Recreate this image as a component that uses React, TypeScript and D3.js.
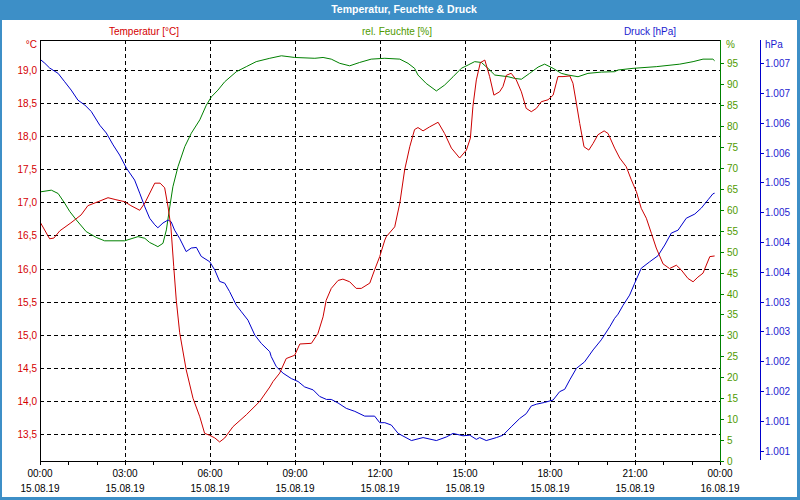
import React, { useEffect } from "react";
import * as d3 from "d3";

// ---- data (time in hours since 15.08.19 00:00) ----
const tempTime = [0.02,0.34,0.49,0.70,1.09,1.45,1.69,2.05,2.40,2.68,2.99,3.21,3.52,3.70,4.05,4.24,4.40,4.52,4.62,4.72,4.81,4.93,5.16,5.40,5.64,5.81,5.99,6.17,6.34,6.52,6.81,7.28,7.75,8.11,8.22,8.46,8.69,8.99,9.17,9.58,9.81,9.99,10.10,10.28,10.52,10.69,10.93,11.16,11.34,11.64,11.81,11.99,12.17,12.22,12.52,12.70,12.87,13.05,13.22,13.34,13.52,13.75,14.05,14.28,14.52,14.81,15.05,15.19,15.28,15.40,15.54,15.70,15.87,16.02,16.22,16.34,16.46,16.63,16.81,16.99,17.16,17.34,17.52,17.69,17.93,18.11,18.28,18.46,18.70,18.81,18.93,19.05,19.20,19.37,19.52,19.69,19.91,20.05,20.28,20.46,20.69,20.87,21.05,21.22,21.40,21.58,21.75,21.99,22.22,22.46,22.63,22.87,23.05,23.22,23.40,23.64,23.81];
const tempValues = [16.69,16.45,16.46,16.57,16.69,16.81,16.95,17.01,17.07,17.04,17.01,16.95,16.88,16.99,17.29,17.29,17.22,16.93,16.63,16.03,15.52,15.03,14.47,14.04,13.76,13.51,13.48,13.44,13.38,13.44,13.61,13.79,13.99,14.21,14.29,14.42,14.64,14.69,14.86,14.87,15.02,15.27,15.52,15.70,15.82,15.84,15.80,15.70,15.70,15.78,15.98,16.18,16.43,16.48,16.63,16.99,17.49,17.84,18.10,18.13,18.08,18.14,18.21,18.04,17.82,17.67,17.79,17.97,18.45,18.85,19.11,19.15,18.90,18.62,18.67,18.75,18.92,18.95,18.85,18.67,18.42,18.37,18.42,18.52,18.55,18.62,18.90,18.90,18.91,18.80,18.50,18.19,17.84,17.79,17.89,18.02,18.08,18.04,17.82,17.67,17.54,17.34,17.16,16.91,16.76,16.53,16.31,16.07,16.00,16.05,15.98,15.85,15.80,15.87,15.93,16.18,16.19];

const humTime = [0.02,0.40,0.64,0.87,1.05,1.28,1.63,1.99,2.28,2.99,3.46,3.70,3.87,4.05,4.16,4.34,4.46,4.58,4.69,4.87,5.11,5.34,5.64,5.87,6.05,6.28,6.52,6.93,7.28,7.63,8.11,8.52,8.99,9.70,9.99,10.28,10.58,10.93,11.28,11.69,12.17,12.70,12.99,13.22,13.34,13.63,13.99,14.28,14.58,14.87,15.11,15.34,15.58,15.81,16.05,16.52,16.75,16.99,17.28,17.58,17.81,18.11,18.40,18.64,18.99,19.34,19.81,20.28,20.40,20.93,21.75,22.58,23.05,23.40,23.75,23.81];
const humValues = [64.3,64.7,63.9,61.6,59.6,57.6,54.8,53.4,52.6,52.6,53.6,53.2,52.2,51.6,51.2,52.0,55.2,60.7,65.5,70.3,75.1,78.3,81.5,85.0,87.0,88.6,90.6,93.0,94.2,95.4,96.2,96.8,96.4,96.2,96.4,96.0,95.0,94.4,95.2,96.0,96.2,96.0,95.0,93.8,92.2,90.2,88.4,89.8,91.8,93.8,94.6,95.4,95.2,93.8,92.2,91.8,91.4,91.2,92.6,94.1,94.8,93.8,92.6,92.2,91.8,92.6,92.9,93.0,93.4,93.8,94.2,94.8,95.4,96.0,96.0,95.6];

const presTime = [0.02,0.17,0.34,0.64,0.87,1.10,1.34,1.58,1.81,2.11,2.34,2.58,2.81,3.05,3.34,3.52,3.70,3.87,4.05,4.16,4.34,4.52,4.63,4.75,4.93,5.16,5.34,5.52,5.69,5.99,6.17,6.34,6.52,6.69,6.93,7.11,7.34,7.58,7.81,8.11,8.16,8.34,8.58,8.87,9.11,9.34,9.64,9.87,10.11,10.28,10.52,10.81,11.11,11.46,11.81,11.99,12.17,12.40,12.64,13.11,13.52,13.99,14.34,14.58,14.93,15.17,15.40,15.52,15.75,16.11,16.34,16.63,16.93,17.16,17.34,17.52,17.81,18.11,18.34,18.52,18.70,18.93,19.22,19.52,19.81,20.11,20.28,20.40,20.58,20.81,20.99,21.22,21.52,21.81,22.05,22.28,22.52,22.81,23.11,23.34,23.58,23.75,23.81];
const presValues = [1007.06,1007.00,1006.92,1006.83,1006.69,1006.55,1006.38,1006.30,1006.19,1005.96,1005.83,1005.63,1005.46,1005.24,1005.04,1004.82,1004.59,1004.40,1004.29,1004.24,1004.32,1004.37,1004.34,1004.20,1004.06,1003.84,1003.90,1003.91,1003.76,1003.67,1003.53,1003.34,1003.31,1003.17,1002.94,1002.83,1002.69,1002.44,1002.30,1002.16,1002.08,1001.91,1001.80,1001.71,1001.66,1001.57,1001.52,1001.41,1001.36,1001.36,1001.30,1001.21,1001.16,1001.08,1001.08,1000.97,1000.97,1000.93,1000.79,1000.67,1000.72,1000.67,1000.73,1000.79,1000.75,1000.76,1000.69,1000.72,1000.67,1000.72,1000.76,1000.90,1001.04,1001.12,1001.25,1001.28,1001.31,1001.35,1001.49,1001.53,1001.69,1001.88,1001.99,1002.19,1002.36,1002.58,1002.72,1002.79,1002.94,1003.11,1003.31,1003.56,1003.67,1003.77,1003.95,1004.15,1004.20,1004.40,1004.47,1004.57,1004.71,1004.81,1004.82];

const tempTicks = [13.5,14.0,14.5,15.0,15.5,16.0,16.5,17.0,17.5,18.0,18.5,19.0];
const humTicks = [0,5,10,15,20,25,30,35,40,45,50,55,60,65,70,75,80,85,90,95];
const presTicks = [1000.5,1001,1001.5,1002,1002.5,1003,1003.5,1004,1004.5,1005,1005.5,1006,1006.5,1007];
const timeTicks = [0,3,6,9,12,15,18,21,24];
const timeLabels = ["00:00","03:00","06:00","09:00","12:00","15:00","18:00","21:00","00:00"];
const dateLabels = ["15.08.19","15.08.19","15.08.19","15.08.19","15.08.19","15.08.19","15.08.19","15.08.19","16.08.19"];
const minorHours = d3.range(0, 25);

const title = "Temperatur, Feuchte & Druck";
const seriesNames = ["Temperatur [°C]", "rel. Feuchte [%]", "Druck [hPa]"];

const FONT = "'Liberation Sans', Arial, sans-serif";
const RED = "#cc0000";
const RED_TXT = "#d40000";
const GREEN = "#008000";
const GREEN_TXT = "#4f9a00";
const BLUE = "#0000cc";
const BLUE_TXT = "#1c1cd0";
const FRAME = "#3d8fc7";

export default function App() {
  useEffect(() => {
    document.body.style.margin = "0";
  }, []);

  const L = 40, R = 720, T = 40, B = 461;
  const x = d3.scaleLinear().domain([0, 24]).range([L, R]);
  const yT = d3.scaleLinear().domain([13.092, 19.453]).range([B, T]);
  const yH = d3.scaleLinear().domain([0, 100.57]).range([B, T]);
  const yP = d3.scaleLinear().domain([1000.327, 1007.39]).range([B, T]);

  const mk = (times: number[], vals: number[], ys: d3.ScaleLinear<number, number>) =>
    d3.line<number>().x((_, i) => x(times[i])).y((v) => ys(v))(vals) || "";

  const fmtT = (v: number) => v.toFixed(1).replace(".", ",");
  const fmtP = (v: number) => {
    const r = Math.round(v);
    return Math.floor(r / 1000) + "." + String(r % 1000).padStart(3, "0");
  };

  const blueAxisX = 760.5;

  return (
    <svg width={800} height={500} style={{ display: "block", position: "absolute", left: 0, top: 0 }} fontFamily={FONT}>
      <rect x={0} y={0} width={800} height={500} fill={FRAME} />
      <rect x={2} y={20} width={795} height={477} fill="#ffffff" />
      <text x={404} y={13} textAnchor="middle" fill="#ffffff" fontWeight="bold" fontSize={10.5}>{title}</text>

      {/* legend headings */}
      <text x={144} y={34.5} textAnchor="middle" fill={RED_TXT} fontSize={10}>{seriesNames[0]}</text>
      <text x={397} y={34.5} textAnchor="middle" fill={GREEN_TXT} fontSize={10}>{seriesNames[1]}</text>
      <text x={650} y={34.5} textAnchor="middle" fill={BLUE_TXT} fontSize={10}>{seriesNames[2]}</text>

      {/* grid */}
      <g stroke="#000" strokeWidth={1} strokeDasharray="4 3" shapeRendering="crispEdges">
        {tempTicks.map((t) => (
          <line key={"h" + t} x1={L} x2={R} y1={Math.round(yT(t)) + 0.5} y2={Math.round(yT(t)) + 0.5} />
        ))}
        {timeTicks.slice(1, -1).map((h) => (
          <line key={"v" + h} x1={Math.round(x(h)) + 0.5} x2={Math.round(x(h)) + 0.5} y1={T} y2={B} />
        ))}
      </g>

      {/* series */}
      <path d={mk(humTime, humValues, yH)} fill="none" stroke={GREEN} strokeWidth={1} />
      <path d={mk(presTime, presValues, yP)} fill="none" stroke={BLUE} strokeWidth={1} />
      <path d={mk(tempTime, tempValues, yT)} fill="none" stroke={RED} strokeWidth={1} />

      {/* frame lines */}
      <g shapeRendering="crispEdges" strokeWidth={1}>
        <line x1={L} x2={R} y1={T + 0.5} y2={T + 0.5} stroke="#000" />
        <line x1={L + 0.5} x2={L + 0.5} y1={T} y2={B + 1} stroke="#000" />
        <line x1={L} x2={R} y1={B + 0.5} y2={B + 0.5} stroke="#000" />
        <line x1={R + 0.5} x2={R + 0.5} y1={T} y2={B + 1} stroke={GREEN} />
        {minorHours.map((h) => (
          <line key={"m" + h} x1={Math.round(x(h)) + 0.5} x2={Math.round(x(h)) + 0.5} y1={B} y2={B + 4} stroke="#000" />
        ))}
        {humTicks.map((v) => (
          <line key={"ht" + v} x1={R} x2={R + 4} y1={Math.round(yH(v)) + 0.5} y2={Math.round(yH(v)) + 0.5} stroke={GREEN} />
        ))}
        <line x1={blueAxisX} x2={blueAxisX} y1={40} y2={460} stroke={BLUE} />
        {presTicks.map((v) => (
          <line key={"pt" + v} x1={blueAxisX} x2={blueAxisX + 3} y1={Math.round(yP(v)) + 0.5} y2={Math.round(yP(v)) + 0.5} stroke={BLUE} />
        ))}
      </g>

      {/* axis labels */}
      <g fontSize={10}>
        <text x={37} y={48} textAnchor="end" fill={RED_TXT}>°C</text>
        {tempTicks.map((t) => (
          <text key={"tl" + t} x={37} y={yT(t) + 4} textAnchor="end" fill={RED_TXT}>{fmtT(t)}</text>
        ))}
        <text x={726} y={48} fill={GREEN_TXT}>%</text>
        {humTicks.map((v) => (
          <text key={"hl" + v} x={727} y={yH(v) + 4} fill={GREEN_TXT}>{v}</text>
        ))}
        <text x={765} y={48} fill={BLUE_TXT}>hPa</text>
        {presTicks.map((v) => (
          <text key={"pl" + v} x={765} y={yP(v) + 4} fill={BLUE_TXT}>{fmtP(v)}</text>
        ))}
        {timeTicks.map((h, i) => (
          <g key={"xl" + h}>
            <text x={x(h)} y={477} textAnchor="middle" fill="#000">{timeLabels[i]}</text>
            <text x={x(h)} y={492} textAnchor="middle" fill="#000">{dateLabels[i]}</text>
          </g>
        ))}
      </g>
    </svg>
  );
}
